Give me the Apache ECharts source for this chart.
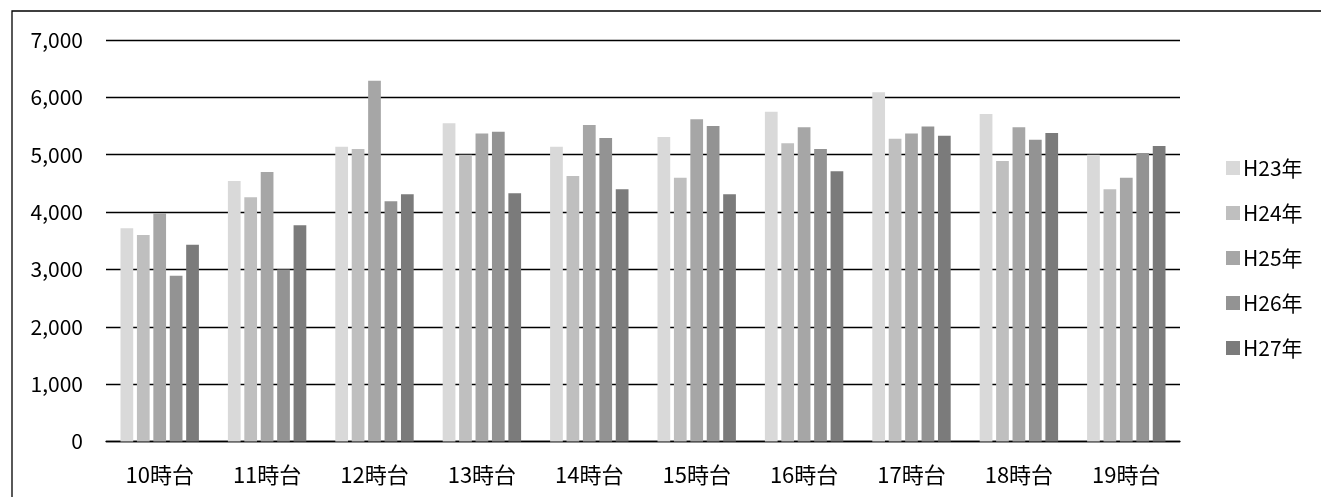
<!DOCTYPE html>
<html>
<head>
<meta charset="utf-8">
<script src="https://cdn.jsdelivr.net/npm/echarts@6/dist/echarts.min.js"></script>
<style>
html,body{margin:0;padding:0;background:#fff;}
#chart{width:1321px;height:497px;}
</style>
</head>
<body>
<div id="chart"></div>
<script>
var categories = ['10時台','11時台','12時台','13時台','14時台','15時台','16時台','17時台','18時台','19時台'];
var seriesNames = ['H23年','H24年','H25年','H26年','H27年'];
var h23 = [3720, 4540, 5140, 5550, 5140, 5310, 5750, 6090, 5710, 5000];
var h24 = [3600, 4260, 5100, 5000, 4630, 4600, 5200, 5280, 4890, 4400];
var h25 = [3980, 4700, 6290, 5370, 5520, 5620, 5480, 5370, 5480, 4600];
var h26 = [2890, 3000, 4190, 5400, 5290, 5500, 5100, 5490, 5260, 5030];
var h27 = [3430, 3770, 4310, 4330, 4400, 4310, 4710, 5330, 5380, 5150];
var colors = ['#d9d9d9','#bfbfbf','#a6a6a6','#939393','#7b7b7b'];
var yTicks = {min: 0, max: 7000, interval: 1000};

var FONT = '"Noto Sans CJK JP", "Noto Sans", sans-serif';
var chart = echarts.init(document.getElementById('chart'), null, {renderer: 'canvas'});
var dataSets = [h23, h24, h25, h26, h27];
var series = seriesNames.map(function(name, i){
  return {
    name: name,
    type: 'bar',
    data: dataSets[i],
    barGap: '29%',
    barCategoryGap: '27%',
    itemStyle: {color: colors[i]},
    animation: false
  };
});
chart.setOption({
  animation: false,
  backgroundColor: '#fff',
  color: colors,
  graphic: [{
    type: 'rect',
    shape: {x: 12, y: 11, width: 1400, height: 600},
    style: {fill: 'none', stroke: '#000', lineWidth: 1.3},
    silent: true,
    z: 100
  }],
  grid: {left: 106, right: 141, top: 40, bottom: 55.5, containLabel: false},
  legend: {
    orient: 'vertical',
    left: 1221,
    top: 152.5,
    itemWidth: 14,
    itemHeight: 14,
    itemGap: 24,
    icon: 'rect',
    textStyle: {fontFamily: FONT, fontSize: 21, color: '#000', padding: [0,0,0,-2]},
    data: seriesNames
  },
  xAxis: {
    type: 'category',
    data: categories,
    axisLine: {show: true, lineStyle: {color: '#000', width: 1.3}},
    axisTick: {show: false},
    axisLabel: {fontFamily: FONT, fontSize: 22, color: '#000', margin: 22}
  },
  yAxis: {
    type: 'value',
    min: yTicks.min,
    max: yTicks.max,
    interval: yTicks.interval,
    axisLine: {show: false},
    axisTick: {show: false},
    splitLine: {show: true, lineStyle: {color: '#000', width: 1.3}},
    axisLabel: {
      fontFamily: FONT, fontSize: 21, color: '#000', margin: 23,
      formatter: function(v){ return v.toLocaleString('en-US'); }
    }
  },
  series: series
});
</script>
</body>
</html>
